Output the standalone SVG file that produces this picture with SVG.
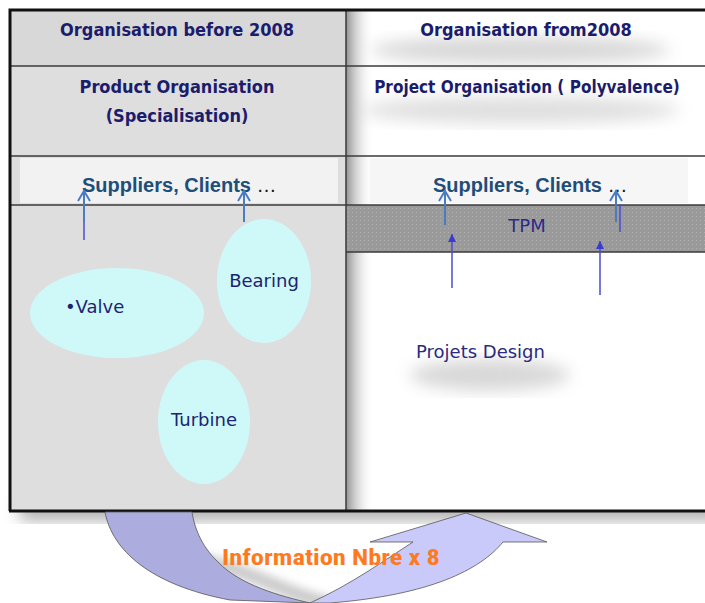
<svg xmlns="http://www.w3.org/2000/svg" width="705" height="603" viewBox="0 0 705 603">
<defs>
<style>
.hdr{font-family:"DejaVu Sans Condensed","DejaVu Sans","Liberation Sans",sans-serif;font-stretch:condensed;font-weight:bold;font-size:18px;fill:#1c1c6c;text-anchor:middle}
.sup{font-family:"Liberation Sans",Arial,sans-serif;font-weight:bold;font-size:20px;fill:#1f4e79}
.lbl{font-family:"DejaVu Sans","Liberation Sans",sans-serif;font-size:18px;fill:#1c2470}
.ell{fill:#cff9f9}
.grid{stroke:#3a3a3a;stroke-width:1.5;fill:none}
.arw{stroke:#4a7cc4;stroke-width:2;fill:none}
.arp{stroke:#4a4ad0;stroke-width:1.5;fill:none}
</style>
<filter id="blur" x="-20%" y="-20%" width="140%" height="140%"><feGaussianBlur stdDeviation="8"/></filter>
<filter id="blur2" x="-20%" y="-50%" width="140%" height="200%"><feGaussianBlur stdDeviation="4"/></filter>
<linearGradient id="edge" x1="0" x2="1" y1="0" y2="0">
<stop offset="0" stop-color="#777"/><stop offset="1" stop-color="#fff" stop-opacity="0"/>
</linearGradient>
<pattern id="dots" width="4" height="4" patternUnits="userSpaceOnUse">
<rect width="4" height="4" fill="#9a9a9a"/><rect width="1" height="1" fill="#b0b0b0"/>
</pattern>
<marker id="chev" markerWidth="14" markerHeight="14" refX="12" refY="7" orient="auto" markerUnits="userSpaceOnUse">
<path d="M2,1 L12,7 L2,13" fill="none" stroke="#4a7cc4" stroke-width="2"/>
</marker>
<marker id="tri" markerWidth="10" markerHeight="10" refX="9" refY="4" orient="auto" markerUnits="userSpaceOnUse">
<path d="M1,0 L9,4 L1,8 Z" fill="#3a3ad0"/>
</marker>
</defs>
<rect width="705" height="603" fill="#ffffff"/>

<!-- shadow under frame -->
<rect x="20" y="500" width="700" height="20" fill="#888" filter="url(#blur)" opacity="0.7"/>

<!-- left column -->
<g id="left-column">
<rect x="10" y="10" width="336" height="501" fill="#dedede"/>
<rect x="10" y="10" width="336" height="56" fill="#d8d8d8"/>
<rect x="20" y="158" width="318" height="45" fill="#f2f2f2"/>
</g>

<!-- right column -->
<g id="right-column">
<rect x="346" y="10" width="359" height="501" fill="#ffffff"/>
<ellipse cx="520" cy="50" rx="150" ry="14" fill="#cfcfcf" filter="url(#blur)" opacity="0.8"/>
<ellipse cx="520" cy="110" rx="160" ry="14" fill="#d8d8d8" filter="url(#blur)" opacity="0.8"/>
<ellipse cx="490" cy="375" rx="80" ry="16" fill="#c8c8c8" filter="url(#blur)" opacity="0.7"/>
<rect x="346" y="10" width="28" height="501" fill="url(#edge)" opacity="0.8"/>
<rect x="370" y="158" width="318" height="45" fill="#f6f6f6"/>
<rect x="346" y="205" width="359" height="47" fill="url(#dots)"/>
</g>

<!-- grid lines -->
<g id="grid">
<line class="grid" x1="10" y1="66" x2="705" y2="66"/>
<line class="grid" x1="10" y1="156" x2="705" y2="156"/>
<line class="grid" x1="10" y1="205" x2="705" y2="205"/>
<line class="grid" x1="346" y1="252" x2="705" y2="252"/>
<line class="grid" x1="346" y1="10" x2="346" y2="511"/>
<path d="M10,511 V10 H705" fill="none" stroke="#111" stroke-width="3"/>
<line x1="9" y1="511" x2="705" y2="511" stroke="#111" stroke-width="3"/>
</g>

<g id="header-left">
<text class="hdr" x="177" y="36">Organisation before 2008</text>
<text class="hdr" x="177" y="93">Product Organisation</text>
<text class="hdr" x="177" y="122">(Specialisation)</text>
</g>
<g id="header-right">
<text class="hdr" x="526" y="36">Organisation from2008</text>
<text class="hdr" x="527" y="93" style="font-size:17px">Project Organisation ( Polyvalence)</text>
</g>

<g id="suppliers-left">
<text class="sup" x="82" y="192">Suppliers, Clients <tspan fill="#111" font-weight="normal">…</tspan></text>
</g>
<g id="suppliers-right">
<text class="sup" x="433" y="192">Suppliers, Clients <tspan fill="#111" font-weight="normal">…</tspan></text>
</g>
<g id="tpm">
<text class="lbl" x="527" y="232" text-anchor="middle" style="fill:#2a2a8a">TPM</text>
</g>

<g id="valve">
<ellipse class="ell" cx="117" cy="313" rx="87" ry="45"/>
<text class="lbl" x="65" y="313">•Valve</text>
</g>
<g id="bearing">
<ellipse class="ell" cx="264" cy="281" rx="47" ry="62"/>
<text class="lbl" x="264" y="287" text-anchor="middle">Bearing</text>
</g>
<g id="turbine">
<ellipse class="ell" cx="204" cy="422" rx="46" ry="62"/>
<text class="lbl" x="204" y="426" text-anchor="middle">Turbine</text>
</g>
<g id="projets-design">
<text class="lbl" x="416" y="358" style="fill:#2a2a80">Projets  Design</text>
</g>

<g id="connectors">
<line class="arp" x1="84" y1="220" x2="84" y2="240"/>
<line class="arw" x1="84" y1="222" x2="84" y2="191" marker-end="url(#chev)"/>
<line class="arw" x1="244" y1="222" x2="244" y2="191" marker-end="url(#chev)"/>
<line class="arw" x1="445" y1="225" x2="445" y2="191" marker-end="url(#chev)"/>
<line class="arw" x1="616" y1="222" x2="616" y2="191" marker-end="url(#chev)"/>
<line class="arp" x1="620" y1="204" x2="620" y2="232"/>
<line class="arp" x1="452" y1="288" x2="452" y2="234" marker-end="url(#tri)"/>
<line class="arp" x1="600" y1="295" x2="600" y2="241" marker-end="url(#tri)"/>
</g>

<g id="info-arrow">
<path d="M330,603 C300,600 250,570 200,560" fill="none" stroke="#999" stroke-width="14" filter="url(#blur2)" opacity="0.5"/>
<path d="M105,512 C112,550 150,585 230,600 L310,603 C280,596 240,585 218,562 C200,545 194,525 192,512 Z" fill="#acacdf" stroke="#555" stroke-width="0.8"/>
<path d="M310,603 C350,585 385,560 413,542 L370,542 L466,513 L547,542 L503,542 C480,570 430,595 330,603 Z" fill="#cacafa" stroke="#555" stroke-width="0.8"/>
<text x="331" y="565" text-anchor="middle" font-family="'Liberation Sans Narrow','Roboto Condensed','DejaVu Sans Condensed','Liberation Sans',sans-serif" font-weight="bold" font-size="22" fill="#ff7a1e" textLength="218" lengthAdjust="spacingAndGlyphs">Information Nbre x 8</text>
</g>
</svg>
